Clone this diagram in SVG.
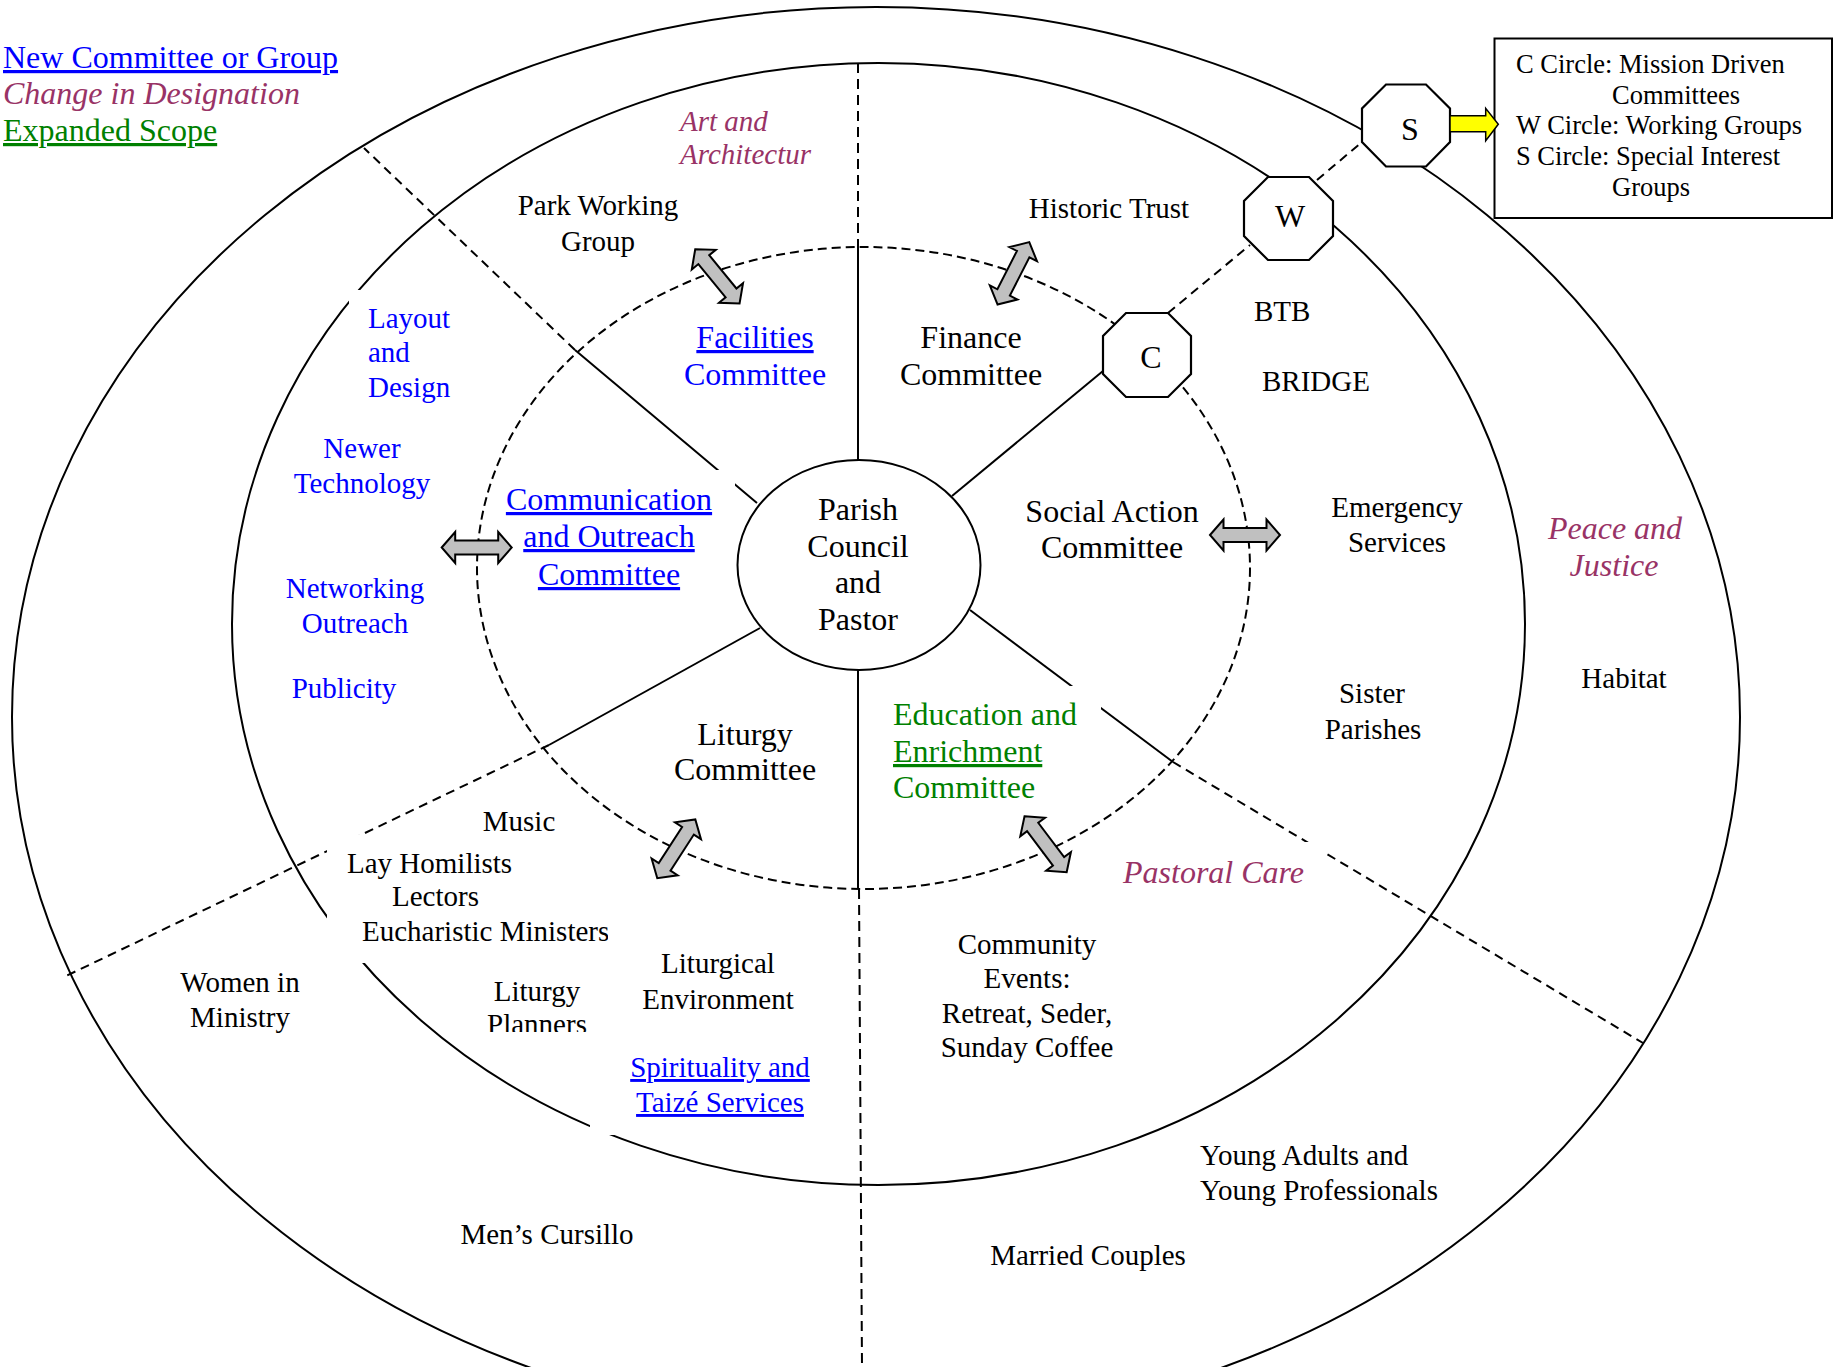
<svg xmlns="http://www.w3.org/2000/svg" width="1838" height="1367" viewBox="0 0 1838 1367">
<defs>
<style>
.t{font-family:"Liberation Serif","Times New Roman",serif;fill:#000}
.b{font-size:32px}
.s{font-size:29px}
.l{font-size:26.5px}
.blue{fill:#0000FF}
.green{fill:#008000}
.plum{fill:#993366;font-style:italic}
.u{text-decoration:underline}
.m{text-anchor:middle}
.ring{fill:none;stroke:#000;stroke-width:2}
.dash{fill:none;stroke:#000;stroke-width:2;stroke-dasharray:9 6}
.solid{fill:none;stroke:#000;stroke-width:2}
.bg{fill:#fff;stroke:none}
.oct{fill:#fff;stroke:#000;stroke-width:2.2}
.garr{fill:#C0C0C0;stroke:#000;stroke-width:2;stroke-linejoin:miter}
</style>
<path id="dbl" d="M-35,0 L-21.5,-15.5 L-21.5,-7 L21.5,-7 L21.5,-15.5 L35,0 L21.5,15.5 L21.5,7 L-21.5,7 L-21.5,15.5 Z"/>
<clipPath id="clipEuch"><rect x="300" y="900" width="308" height="60"/></clipPath>
<clipPath id="clipPlan"><rect x="450" y="960" width="200" height="72"/></clipPath>
</defs>
<rect x="0" y="0" width="1838" height="1367" fill="#fff"/>

<g id="rings">
<ellipse class="ring" cx="876" cy="717" rx="864" ry="710"/>
<ellipse class="ring" cx="878.5" cy="624" rx="646.5" ry="561"/>
<ellipse class="dash" cx="863.5" cy="568" rx="386.5" ry="321" style="stroke-dasharray:9 5"/>
</g>

<g id="connectors">
<line class="dash" x1="858" y1="63" x2="858" y2="247" style="stroke-dasharray:10 6"/>
<line class="solid" x1="858" y1="247" x2="858" y2="460"/>
<line class="solid" x1="858" y1="670" x2="858" y2="889"/>
<line class="dash" x1="859" y1="889" x2="862" y2="1367" style="stroke-dasharray:10 6"/>
<line class="solid" x1="757" y1="503" x2="575" y2="350"/>
<line class="dash" x1="575" y1="350" x2="364" y2="148"/>
<line class="solid" x1="952" y1="496" x2="1103" y2="371"/>
<line class="dash" x1="1168" y1="313" x2="1250" y2="245"/>
<line class="dash" x1="1317" y1="180" x2="1362" y2="142"/>
<line class="solid" x1="760" y1="628" x2="549" y2="745"/>
<line class="dash" x1="549" y1="745" x2="66" y2="976"/>
<line class="solid" x1="970" y1="610" x2="1173" y2="762"/>
<line class="dash" x1="1173" y1="762" x2="1643" y2="1043"/>
</g>

<g id="textbox-backgrounds">
<rect class="bg" x="500" y="470" width="235" height="130"/>
<rect class="bg" x="327" y="835" width="285" height="128"/>
<rect class="bg" x="590" y="1045" width="260" height="90"/>
<rect class="bg" x="880" y="686" width="221" height="120"/>
<rect class="bg" x="1110" y="842" width="216" height="60"/>
<rect class="bg" x="349" y="290" width="100" height="120"/>
</g>

<g id="arrows">
<use href="#dbl" class="garr" transform="translate(717.4,276.3) rotate(50.7)"/>
<use href="#dbl" class="garr" transform="translate(1013.4,273.3) rotate(-63)"/>
<use href="#dbl" class="garr" transform="translate(476.7,547.5)"/>
<use href="#dbl" class="garr" transform="translate(1245,535)"/>
<use href="#dbl" class="garr" transform="translate(676.3,848.8) rotate(-57.1)"/>
<use href="#dbl" class="garr" transform="translate(1045.6,844.2) rotate(53)"/>
</g>

<g id="node-center">
<ellipse class="ring" cx="859" cy="565" rx="121.5" ry="105" fill="none"/>
<text class="t b m" x="858" y="520">Parish</text>
<text class="t b m" x="858" y="557">Council</text>
<text class="t b m" x="858" y="593">and</text>
<text class="t b m" x="858" y="630">Pastor</text>
</g>

<g id="node-C">
<polygon class="oct" points="1126,313 1168,313 1191,336 1191,374 1168,397 1126,397 1103,374 1103,336"/>
<text class="t b m" x="1151" y="368">C</text>
</g>
<g id="node-W">
<polygon class="oct" points="1268,177 1309,177 1333,201 1333,236 1309,260 1268,260 1244,236 1244,201"/>
<text class="t b m" x="1290" y="227">W</text>
</g>
<g id="node-S">
<polygon class="oct" points="1386,84.5 1426,84.5 1450,108.5 1450,142 1426,166.5 1386,166.5 1362,142 1362,108.5"/>
<text class="t b m" x="1410" y="140">S</text>
</g>

<g id="node-key">
<rect x="1494.5" y="38.5" width="337.5" height="179.5" fill="#fff" stroke="#000" stroke-width="2"/>
<text class="t l" x="1516" y="73">C Circle: Mission Driven</text>
<text class="t l" x="1612" y="104">Committees</text>
<text class="t l" x="1516" y="134">W Circle: Working Groups</text>
<text class="t l" x="1516" y="165">S Circle: Special Interest</text>
<text class="t l" x="1612" y="196">Groups</text>
</g>
<g id="key-arrow">
<polygon points="1450,115.7 1485.7,115.7 1485.7,108.3 1498.3,124.3 1485.7,140.7 1485.7,131.7 1450,131.7" fill="#FFFF00" stroke="#000" stroke-width="1.5"/>
</g>

<g id="legend">
<text class="t b blue u" x="3" y="68">New Committee or Group</text>
<text class="t b plum" x="3" y="104">Change in Designation</text>
<text class="t b green u" x="3" y="141">Expanded Scope</text>
</g>

<g id="node-facilities">
<text class="t s plum" x="680" y="131">Art and</text>
<text class="t s plum" x="680" y="164">Architectur</text>
<text class="t s m" x="598" y="215">Park Working</text>
<text class="t s m" x="598" y="251">Group</text>
<text class="t b m blue u" x="755" y="348">Facilities</text>
<text class="t b m blue" x="755" y="385">Committee</text>
</g>

<g id="node-finance">
<text class="t s m" x="1109" y="218">Historic Trust</text>
<text class="t b m" x="971" y="348">Finance</text>
<text class="t b m" x="971" y="385">Committee</text>
</g>

<g id="node-communication">
<text class="t s blue" x="368" y="328">Layout</text>
<text class="t s blue" x="368" y="362">and</text>
<text class="t s blue" x="368" y="397">Design</text>
<text class="t s m blue" x="362" y="458">Newer</text>
<text class="t s m blue" x="362" y="493">Technology</text>
<text class="t s m blue" x="355" y="598">Networking</text>
<text class="t s m blue" x="355" y="633">Outreach</text>
<text class="t s m blue" x="344" y="698">Publicity</text>
<text class="t b m blue u" x="609" y="510">Communication</text>
<text class="t b m blue u" x="609" y="547">and Outreach</text>
<text class="t b m blue u" x="609" y="585">Committee</text>
</g>

<g id="node-social">
<text class="t s" x="1254" y="321">BTB</text>
<text class="t s" x="1262" y="391">BRIDGE</text>
<text class="t b m" x="1112" y="522">Social Action</text>
<text class="t b m" x="1112" y="558">Committee</text>
<text class="t s m" x="1397" y="517">Emergency</text>
<text class="t s m" x="1397" y="552">Services</text>
<text class="t b m plum" x="1615" y="539">Peace and</text>
<text class="t b m plum" x="1614" y="576">Justice</text>
<text class="t s m" x="1624" y="688">Habitat</text>
<text class="t s m" x="1372" y="703">Sister</text>
<text class="t s m" x="1373" y="739">Parishes</text>
</g>

<g id="node-education">
<text class="t b green" x="893" y="725">Education and</text>
<text class="t b green u" x="893" y="762">Enrichment</text>
<text class="t b green" x="893" y="798">Committee</text>
<text class="t b plum" x="1123" y="883">Pastoral Care</text>
<text class="t s m" x="1027" y="954">Community</text>
<text class="t s m" x="1027" y="988">Events:</text>
<text class="t s m" x="1027" y="1023">Retreat, Seder,</text>
<text class="t s m" x="1027" y="1057">Sunday Coffee</text>
<text class="t s" x="1200" y="1165">Young Adults and</text>
<text class="t s" x="1200" y="1200">Young Professionals</text>
<text class="t s m" x="1088" y="1265">Married Couples</text>
</g>

<g id="node-liturgy">
<text class="t b m" x="745" y="745">Liturgy</text>
<text class="t b m" x="745" y="780">Committee</text>
<text class="t s m" x="519" y="831">Music</text>
<text class="t s" x="347" y="873">Lay Homilists</text>
<text class="t s" x="392" y="906">Lectors</text>
<text class="t s" x="362" y="941" clip-path="url(#clipEuch)">Eucharistic Ministers</text>
<text class="t s m" x="240" y="992">Women in</text>
<text class="t s m" x="240" y="1027">Ministry</text>
<text class="t s m" x="537" y="1001">Liturgy</text>
<text class="t s m" x="537" y="1034" clip-path="url(#clipPlan)">Planners</text>
<text class="t s m" x="718" y="973">Liturgical</text>
<text class="t s m" x="718" y="1009">Environment</text>
<text class="t s m blue u" x="720" y="1077">Spirituality and</text>
<text class="t s m blue u" x="720" y="1112">Taizé Services</text>
<text class="t s m" x="547" y="1244">Men’s Cursillo</text>
</g>
</svg>
